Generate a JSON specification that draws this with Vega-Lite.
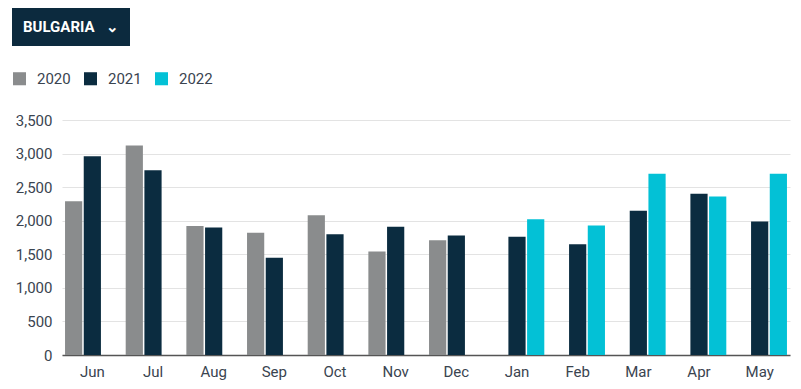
{
  "$schema": "https://vega.github.io/schema/vega-lite/v6.json",
  "padding": {"left": 12, "top": 8, "right": 8, "bottom": 4},
  "background": "#ffffff",
  "config": {
    "font": "Roboto",
    "view": {"stroke": null}
  },
  "width": 728,
  "height": 235,
  "data": {"values": [
    {"country": "BULGARIA", "month": "Jun", "year": "2020", "value": 2290},
    {"country": "BULGARIA", "month": "Jun", "year": "2021", "value": 2960},
    {"country": "BULGARIA", "month": "Jul", "year": "2020", "value": 3120},
    {"country": "BULGARIA", "month": "Jul", "year": "2021", "value": 2750},
    {"country": "BULGARIA", "month": "Aug", "year": "2020", "value": 1920},
    {"country": "BULGARIA", "month": "Aug", "year": "2021", "value": 1900},
    {"country": "BULGARIA", "month": "Sep", "year": "2020", "value": 1820},
    {"country": "BULGARIA", "month": "Sep", "year": "2021", "value": 1450},
    {"country": "BULGARIA", "month": "Oct", "year": "2020", "value": 2080},
    {"country": "BULGARIA", "month": "Oct", "year": "2021", "value": 1800},
    {"country": "BULGARIA", "month": "Nov", "year": "2020", "value": 1540},
    {"country": "BULGARIA", "month": "Nov", "year": "2021", "value": 1910},
    {"country": "BULGARIA", "month": "Dec", "year": "2020", "value": 1710},
    {"country": "BULGARIA", "month": "Dec", "year": "2021", "value": 1780},
    {"country": "BULGARIA", "month": "Jan", "year": "2021", "value": 1760},
    {"country": "BULGARIA", "month": "Jan", "year": "2022", "value": 2020},
    {"country": "BULGARIA", "month": "Feb", "year": "2021", "value": 1650},
    {"country": "BULGARIA", "month": "Feb", "year": "2022", "value": 1930},
    {"country": "BULGARIA", "month": "Mar", "year": "2021", "value": 2150},
    {"country": "BULGARIA", "month": "Mar", "year": "2022", "value": 2700},
    {"country": "BULGARIA", "month": "Apr", "year": "2021", "value": 2400},
    {"country": "BULGARIA", "month": "Apr", "year": "2022", "value": 2360},
    {"country": "BULGARIA", "month": "May", "year": "2021", "value": 1990},
    {"country": "BULGARIA", "month": "May", "year": "2022", "value": 2700}
  ]},
  "mark": {"type": "bar"},
  "encoding": {
    "x": {
      "field": "month",
      "type": "nominal",
      "sort": ["Jun", "Jul", "Aug", "Sep", "Oct", "Nov", "Dec", "Jan", "Feb", "Mar", "Apr", "May"],
      "scale": {"paddingInner": 0.1, "paddingOuter": 0.05},
      "axis": {
        "title": null,
        "labelAngle": 0,
        "labelFontSize": 15,
        "labelColor": "#3a4450",
        "labelFont": "Roboto",
        "labelPadding": 9,
        "ticks": false,
        "domainColor": "#555555",
        "domainWidth": 1.5,
        "grid": false
      }
    },
    "xOffset": {
      "field": "year",
      "type": "nominal",
      "scale": {"domain": ["2020", "2021", "2022"], "paddingInner": 0.08}
    },
    "y": {
      "field": "value",
      "type": "quantitative",
      "scale": {"domain": [0, 3500]},
      "axis": {
        "title": null,
        "values": [0, 500, 1000, 1500, 2000, 2500, 3000, 3500],
        "format": ",d",
        "labelFontSize": 15,
        "labelColor": "#3a4450",
        "labelFont": "Roboto",
        "labelPadding": 10,
        "ticks": false,
        "domain": false,
        "gridColor": "#e3e3e3",
        "gridWidth": 1
      }
    },
    "color": {
      "field": "year",
      "type": "nominal",
      "scale": {"domain": ["2020", "2021", "2022"], "range": ["#8a8c8d", "#0b2c40", "#03c1d6"]},
      "legend": {
        "title": null,
        "orient": "none",
        "legendX": -50,
        "legendY": -49,
        "direction": "horizontal",
        "symbolType": "square",
        "symbolSize": 170,
        "symbolStrokeWidth": 0,
        "labelFontSize": 15,
        "labelColor": "#3a4450",
        "labelFont": "Roboto",
        "labelOffset": 10,
        "columnPadding": 12
      }
    },
    "opacity": {
      "field": "country",
      "type": "nominal",
      "scale": {"range": [1, 1]},
      "legend": {
        "title": null,
        "orient": "none",
        "legendX": -50,
        "legendY": -112,
        "fillColor": "#0c2a3e",
        "padding": 11,
        "symbolSize": 0,
        "symbolOpacity": 0,
        "symbolStrokeWidth": 0,
        "labelOffset": -15,
        "labelFontSize": 15,
        "labelFontWeight": "bold",
        "labelFont": "Roboto",
        "labelColor": "#ffffff",
        "labelExpr": "datum.label + '\u00a0\u00a0\u00a0⌄\u00a0'"
      }
    }
  }
}
